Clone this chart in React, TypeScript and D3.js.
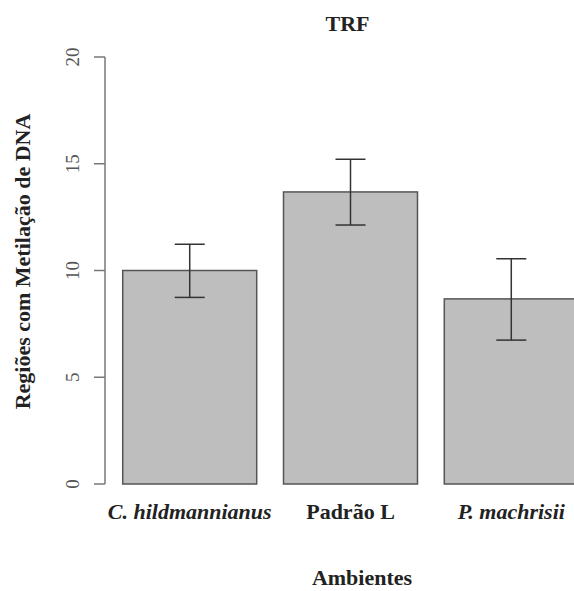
import React from "react";
import * as d3 from "d3";

const categories = ["C. hildmannianus", "Padrão L", "P. machrisii"];
const italicCat = [true, false, true];
const means = [10.0, 13.68, 8.67];
const upper = [11.23, 15.21, 10.55];
const lower = [8.74, 12.13, 6.74];
const yTicks = [0, 5, 10, 15, 20];

const W = 574;
const H = 591;
const FONT = "'Liberation Serif', 'Times New Roman', serif";

export default function App() {
  // R barplot coordinate system: bars of width 1, space 0.2
  const x = d3.scaleLinear().domain([0.064, 3.736]).range([104.5, 596.5]);
  const y = d3.scaleLinear().domain([0, 20]).range([484, 57]);
  const barLeft = (i: number) => 0.2 + i * 1.2;
  const barMid = (i: number) => barLeft(i) + 0.5;
  const axisX = 105;
  const capHalf = 15;

  return (
    <div style={{ position: "fixed", left: 0, top: 0 }}>
      <svg width={W} height={H} style={{ display: "block", background: "#fff" }}>
        <text x={347.5} y={31} textAnchor="middle" fontFamily={FONT} fontWeight="bold" fontSize={22} fill="#222">
          TRF
        </text>
        {means.map((m, i) => (
          <rect
            key={"b" + i}
            x={x(barLeft(i))}
            y={y(m)}
            width={x(barLeft(i) + 1) - x(barLeft(i))}
            height={y(0) - y(m)}
            fill="#bebebe"
            stroke="#555"
            strokeWidth={1.5}
          />
        ))}
        {means.map((m, i) => {
          const cx = x(barMid(i));
          return (
            <g key={"e" + i} stroke="#333" strokeWidth={1.5}>
              <line x1={cx} x2={cx} y1={y(upper[i])} y2={y(lower[i])} />
              <line x1={cx - capHalf} x2={cx + capHalf} y1={y(upper[i])} y2={y(upper[i])} />
              <line x1={cx - capHalf} x2={cx + capHalf} y1={y(lower[i])} y2={y(lower[i])} />
            </g>
          );
        })}
        <line x1={axisX} x2={axisX} y1={y(0)} y2={y(20)} stroke="#777" strokeWidth={1.5} />
        {yTicks.map((t) => (
          <g key={"t" + t}>
            <line x1={axisX - 11} x2={axisX} y1={y(t)} y2={y(t)} stroke="#777" strokeWidth={1.5} />
            <text
              transform={`translate(79,${y(t)}) rotate(-90)`}
              textAnchor="middle"
              fontFamily={FONT}
              fontSize={19}
              fill="#555"
            >
              {t}
            </text>
          </g>
        ))}
        {categories.map((c, i) => (
          <text
            key={"c" + i}
            x={x(barMid(i))}
            y={519}
            textAnchor="middle"
            fontFamily={FONT}
            fontWeight="bold"
            fontStyle={italicCat[i] ? "italic" : "normal"}
            fontSize={22}
            fill="#222"
          >
            {c}
          </text>
        ))}
        <text x={362} y={585} textAnchor="middle" fontFamily={FONT} fontWeight="bold" fontSize={22} fill="#222">
          Ambientes
        </text>
        <text
          transform={`translate(30,261.5) rotate(-90)`}
          textAnchor="middle"
          fontFamily={FONT}
          fontWeight="bold"
          fontSize={22}
          fill="#222"
        >
          Regiões com Metilação de DNA
        </text>
      </svg>
    </div>
  );
}
